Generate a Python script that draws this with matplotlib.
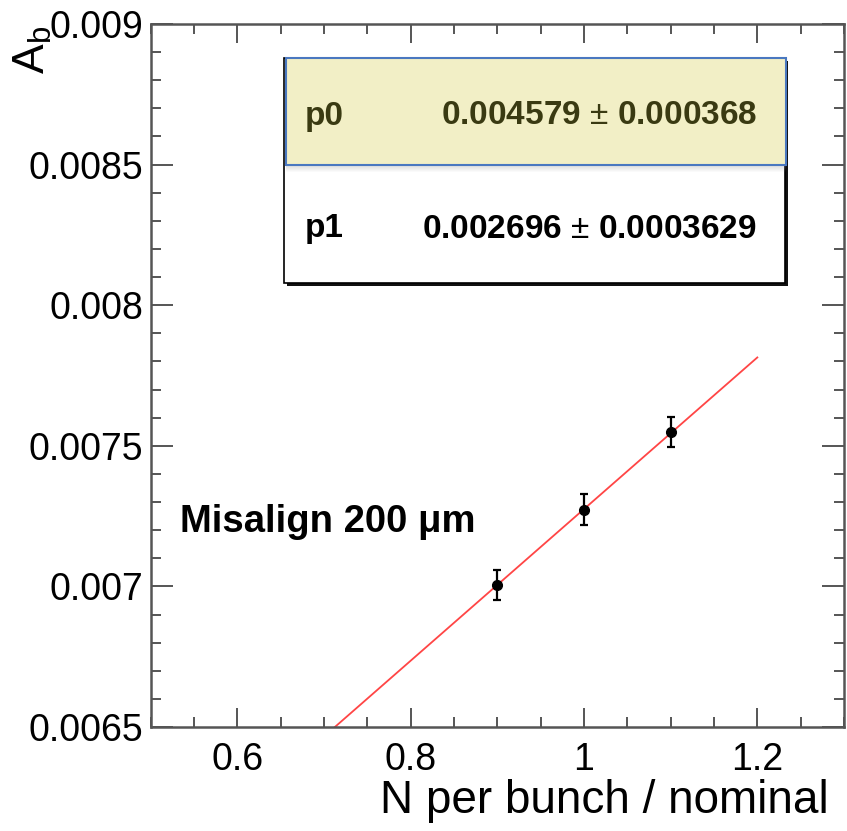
import numpy as np
import matplotlib
matplotlib.use("Agg")
import matplotlib.pyplot as plt
from matplotlib.patches import Rectangle
from matplotlib.ticker import MultipleLocator, FixedLocator, FormatStrFormatter

# ---- data ----
x_vals = [0.9, 1.0, 1.1]
y_vals = [0.007005, 0.007272, 0.007549]
y_errs = [0.000055, 0.000055, 0.000052]
p0 = 0.004579
p0_err = 0.000368
p1 = 0.002696
p1_err = 0.0003629
fit_range = [0.70, 1.20]
x_major = [0.6, 0.8, 1.0, 1.2]
x_lim = [0.5, 1.3]
y_lim = [0.0065, 0.009]
x_title = "N per bunch / nominal"
y_title = r"$\mathregular{A_b}$"
annotation = "Misalign 200 \u03bcm"

plt.rcParams['font.family'] = ['Liberation Sans', 'DejaVu Sans']
plt.rcParams['mathtext.fontset'] = 'custom'
plt.rcParams['mathtext.rm'] = 'Liberation Sans'

W, H = 847, 831
fig = plt.figure(figsize=(W / 100, H / 100), dpi=100)

def fx(px):
    return px / W

def fy(py):
    return 1 - py / H

ax_l, ax_r, ax_t, ax_b = 150.7, 844.0, 24.0, 727.0
ax = fig.add_axes([fx(ax_l), fy(ax_b), fx(ax_r - ax_l), (ax_b - ax_t) / H])
ax.set_xlim(*x_lim)
ax.set_ylim(*y_lim)

frame_col = '#555555'
for s in ax.spines.values():
    s.set_color(frame_col)
    s.set_linewidth(1.8)

ax.xaxis.set_major_locator(FixedLocator(x_major))
ax.xaxis.set_minor_locator(MultipleLocator(0.05))
ax.yaxis.set_major_locator(MultipleLocator(0.0005))
ax.yaxis.set_minor_locator(MultipleLocator(0.0001))
ax.xaxis.set_major_formatter(FormatStrFormatter('%g'))
ax.yaxis.set_major_formatter(FormatStrFormatter('%g'))

ax.tick_params(axis='both', which='both', direction='in', top=True, right=True,
               color=frame_col, width=1.4, labelsize=27)
ax.tick_params(axis='x', which='major', length=13.7, pad=11)
ax.tick_params(axis='x', which='minor', length=7.2)
ax.tick_params(axis='y', which='major', length=15.8, pad=5.5)
ax.tick_params(axis='y', which='minor', length=7.2)

# fit line
xf = np.linspace(fit_range[0], fit_range[1], 200)
ax.plot(xf, p0 + p1 * xf, color='#ff4545', lw=1.3, zorder=2)

# data points
ax.errorbar(x_vals, y_vals, yerr=y_errs, fmt='o', color='black', ms=7,
            elinewidth=1.6, capsize=3.0, capthick=1.6, zorder=3)

# annotation
fig.text(fx(180), fy(532), annotation, fontsize=27.5, fontweight='bold',
         ha='left', va='baseline')

# axis titles
fig.text(fx(829), fy(813), x_title, fontsize=33, ha='right', va='baseline')
fig.text(fx(12), fy(26), y_title, fontsize=32, rotation=90, ha='left', va='top')

# ---- stats box ----
bx0, bx1, by0, by1 = 283.5, 785.0, 58.0, 283.0
# shadow
fig.patches.append(Rectangle((fx(bx0 + 3), fy(by1 + 3)), fx(bx1 - bx0), (by1 - by0) / H,
                             transform=fig.transFigure, facecolor='#111111',
                             edgecolor='none', zorder=5))
fig.patches.append(Rectangle((fx(bx0), fy(by1)), fx(bx1 - bx0), (by1 - by0) / H,
                             transform=fig.transFigure, facecolor='white',
                             edgecolor='black', lw=1.2, zorder=6))
# soft shadow under the highlighted row
for i in range(7):
    fig.patches.append(Rectangle((fx(286), fy(165 + i + 1)), fx(500), 1 / H,
                                 transform=fig.transFigure, facecolor='#888888',
                                 alpha=0.28 * (1 - i / 7), edgecolor='none', zorder=7))
fig.patches.append(Rectangle((fx(286), fy(165)), fx(500), (165 - 58) / H,
                             transform=fig.transFigure, facecolor='#f2efc6',
                             edgecolor='#4a78c0', lw=1.5, zorder=8))

txt_kw = dict(fontsize=24, fontweight='bold', zorder=10)
fig.text(fx(305), fy(116), "p0", ha='left', va='center', color='#3a3a12', **txt_kw)
fig.text(fx(757), fy(116), f"{p0:.6f} $\\pm$ {p0_err:.6f}", ha='right', va='center',
         color='#3a3a12', **txt_kw)
fig.text(fx(305), fy(229), "p1", ha='left', va='center', color='black', **txt_kw)
fig.text(fx(757), fy(229), f"{p1:.6f} $\\pm$ {p1_err:.7f}", ha='right', va='center',
         color='black', **txt_kw)

fig.savefig('out.png', dpi=100)
